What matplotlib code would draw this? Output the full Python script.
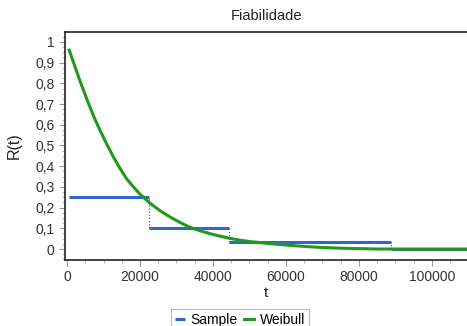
import matplotlib
matplotlib.use("Agg")
import matplotlib.pyplot as plt
from matplotlib.ticker import MultipleLocator, FuncFormatter

plt.rcParams['font.family'] = ['Liberation Sans', 'DejaVu Sans']

# Sample (empirical) step function
sample_t_start = [500, 22500, 44500, 88800]
sample_t_end = [22500, 44500, 88800, 110000]
sample_r = [0.25, 0.10, 0.033, 0.0]

# Weibull curve
weibull_t = [600, 1700, 3600, 5400, 7200, 9000, 10800, 12700, 14500, 16300,
             18200, 20000, 22700, 25500, 28200, 31000, 33700, 36500, 39200,
             42000, 44500, 47300, 50100, 55000, 60200, 64700, 69300, 75000,
             80000, 85000, 95000, 110000]
weibull_r = [0.960, 0.905, 0.810, 0.725, 0.645, 0.575, 0.510, 0.445, 0.390, 0.340,
             0.300, 0.265, 0.222, 0.185, 0.155, 0.128, 0.105, 0.088, 0.074,
             0.062, 0.052, 0.043, 0.036, 0.027, 0.019, 0.013, 0.008, 0.004,
             0.002, 0.0, 0.0, 0.0]

title = "Fiabilidade"
xlabel = "t"
ylabel = "R(t)"
series_names = ["Sample", "Weibull"]

blue = "#3366cc"
green = "#1f9a1f"

fig = plt.figure(figsize=(4.67, 3.26), dpi=100)
ax = fig.add_axes([65/467, 1-260/326, 1-65/467, (260-32)/326])

ax.hlines(sample_r, sample_t_start, sample_t_end, color=blue, lw=2.2, zorder=2,
          label=series_names[0])
ax.vlines(sample_t_end[:-1], sample_r[1:], sample_r[:-1], color=blue, lw=0.9,
          linestyles=(0, (1, 1.5)), zorder=2)
ax.plot(weibull_t, weibull_r, color=green, lw=2.2, zorder=3, label=series_names[1])

ax.set_xlim(-550, 109600)
ax.set_ylim(-0.053, 1.048)

ax.xaxis.set_major_locator(MultipleLocator(20000))
ax.xaxis.set_minor_locator(MultipleLocator(5000))
ax.yaxis.set_major_locator(MultipleLocator(0.1))
ax.yaxis.set_minor_locator(MultipleLocator(0.025))

def fmt(v, pos):
    s = f"{v:.1f}".rstrip('0').rstrip('.')
    if s == "-0":
        s = "0"
    return s.replace('.', ',')

ax.yaxis.set_major_formatter(FuncFormatter(fmt))

ax.tick_params(axis='both', which='major', labelsize=10, colors='#999999',
               labelcolor='#333333', length=4, width=0.8)
ax.tick_params(axis='both', which='minor', colors='#aaaaaa', length=2, width=0.6)

for s in ['left', 'bottom', 'top']:
    ax.spines[s].set_color('#222222')
    ax.spines[s].set_linewidth(1.2)
ax.spines['right'].set_visible(False)

ax.set_title(title, fontsize=10.5, color='#222222', pad=9)
ax.set_xlabel(xlabel, fontsize=11, color='#222222', labelpad=1)
ax.set_ylabel(ylabel, fontsize=11.5, color='#222222', labelpad=10)

leg = fig.legend(loc='upper center', bbox_to_anchor=(240/467, 1-309/326), ncol=2,
                 fontsize=10, handlelength=0.7, handletextpad=0.4, columnspacing=0.5,
                 frameon=True, fancybox=False, borderpad=0.3, borderaxespad=0)
leg.get_frame().set_edgecolor('#aaaaaa')
leg.get_frame().set_linewidth(0.8)
for line in leg.get_lines():
    line.set_linewidth(2.2)

fig.savefig("out.png", dpi=100)
